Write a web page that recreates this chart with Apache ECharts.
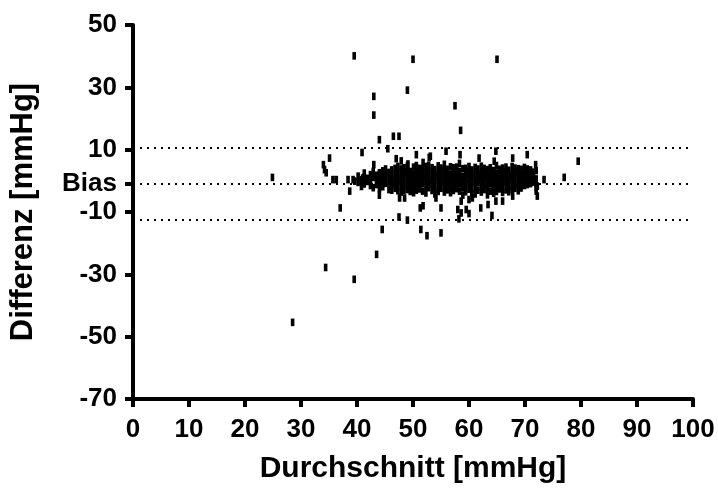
<!DOCTYPE html>
<html><head><meta charset="utf-8">
<script src="https://cdn.jsdelivr.net/npm/echarts@6/dist/echarts.min.js"></script>
<style>html,body{margin:0;padding:0;background:#fff}#c{width:718px;height:489px}</style>
</head><body><div id="c"></div>
<script>
// ---- data ----
const xTickValues = [0, 10, 20, 30, 40, 50, 60, 70, 80, 90, 100];
const yTickValues = [-70, -50, -30, -10, 10, 30, 50];
const biasValue = -0.9;
const upperLoA = 10.6;
const lowerLoA = -12.4;
const xAxisTitle = 'Durchschnitt [mmHg]';
const yAxisTitle = 'Differenz [mmHg]';
const biasLabel = 'Bias';

// dense cluster around the bias (mean, difference)
const clusterPoints = [
  [40.2,-0.5],[40.2,1.5],
  [40.8,0.3],[40.8,-1.8],
  [41.3,1.2],[41.3,-1.0],[41.3,2.5],
  [41.9,-0.2],[41.9,0.8],
  [42.4,2.0],[42.4,-1.5],[42.4,0.4],
  [42.9,1.1],[42.9,-2.2],[42.9,3.0],
  [43.5,0.0],[43.5,1.8],[43.5,-1.2],
  [44.0,2.6],[44.0,-0.6],[44.0,0.9],[44.0,-2.5],
  [44.6,1.4],[44.6,-1.9],[44.6,3.2],[44.6,0.2],
  [45.1,-0.8],[45.1,2.1],[45.1,0.6],[45.1,3.8],
  [45.7,-2.8],[45.7,0.9],[45.7,2.7],[45.7,-0.4],
  [46.2,1.6],[46.2,-1.3],[46.2,3.5],[46.2,0.0],[46.2,-3.0],
  [46.8,4.0],[46.8,2.2],[46.8,-0.5],[46.8,-2.4],[46.8,0.8],
  [47.3,3.0],[47.3,1.0],[47.3,-1.0],[47.3,-3.2],[47.3,4.6],[47.3,0.2],
  [47.9,2.5],[47.9,-0.3],[47.9,-2.0],[47.9,1.5],[47.9,3.8],[47.9,-3.6],
  [48.4,4.2],[48.4,1.8],[48.4,0.0],[48.4,-1.6],[48.4,-3.0],[48.4,2.9],
  [49.0,0.9],[49.0,-0.8],[49.0,3.4],[49.0,-2.6],[49.0,2.0],[49.0,4.8],
  [49.5,1.3],[49.5,-1.9],[49.5,3.0],[49.5,-3.4],[49.5,0.1],[49.5,2.4],
  [50.1,4.4],[50.1,2.0],[50.1,-0.6],[50.1,-2.2],[50.1,0.7],[50.1,-3.8],
  [50.6,3.2],[50.6,0.6],[50.6,-1.4],[50.6,1.9],[50.6,-3.0],[50.6,4.9],
  [51.2,2.6],[51.2,-0.2],[51.2,-2.6],[51.2,1.1],[51.2,4.0],[51.2,-1.2],
  [51.7,3.8],[51.7,1.5],[51.7,-0.8],[51.7,-3.3],[51.7,0.3],[51.7,2.2],
  [52.3,4.6],[52.3,2.8],[52.3,0.4],[52.3,-1.8],[52.3,-3.9],[52.3,1.0],
  [52.8,3.1],[52.8,0.0],[52.8,-2.2],[52.8,1.7],[52.8,-0.9],[52.8,5.0],
  [53.4,2.4],[53.4,-1.1],[53.4,4.2],[53.4,0.8],[53.4,-3.1],[53.4,-0.2],
  [53.9,3.6],[53.9,1.2],[53.9,-0.6],[53.9,-2.8],[53.9,2.0],[53.9,-4.2],
  [54.5,4.8],[54.5,2.6],[54.5,0.2],[54.5,-1.6],[54.5,-3.4],[54.5,1.4],
  [55.0,1.9],[55.0,-0.4],[55.0,3.4],[55.0,-2.4],[55.0,0.7],[55.0,4.1],
  [55.6,2.9],[55.6,0.3],[55.6,-1.7],[55.6,-3.6],[55.6,1.6],[55.6,5.3],
  [56.1,3.7],[56.1,1.0],[56.1,-0.9],[56.1,-2.9],[56.1,2.3],[56.1,-0.1],
  [56.7,4.5],[56.7,2.1],[56.7,-0.3],[56.7,-2.0],[56.7,0.9],[56.7,-3.8],
  [57.2,3.3],[57.2,0.5],[57.2,-1.3],[57.2,1.8],[57.2,-3.1],[57.2,4.2],
  [57.8,2.7],[57.8,-0.7],[57.8,4.4],[57.8,1.2],[57.8,-2.5],[57.8,0.0],
  [58.3,5.6],[58.3,3.0],[58.3,0.8],[58.3,-1.0],[58.3,-3.3],[58.3,2.0],
  [58.9,3.9],[58.9,1.4],[58.9,-0.5],[58.9,-2.2],[58.9,0.4],[58.9,-4.6],
  [59.4,2.4],[59.4,-0.2],[59.4,4.0],[59.4,-1.8],[59.4,1.0],[59.4,-3.5],
  [60.0,4.6],[60.0,1.9],[60.0,-0.8],[60.0,-2.7],[60.0,0.6],[60.0,3.1],
  [60.5,3.5],[60.5,0.9],[60.5,-1.5],[60.5,-3.8],[60.5,2.2],[60.5,-0.3],
  [61.1,2.8],[61.1,-0.1],[61.1,-2.3],[61.1,4.3],[61.1,1.3],[61.1,-4.2],
  [61.6,3.8],[61.6,1.6],[61.6,-0.6],[61.6,-3.0],[61.6,0.2],[61.6,2.5],
  [62.2,4.7],[62.2,2.3],[62.2,0.0],[62.2,-1.9],[62.2,-3.6],[62.2,1.0],
  [62.7,3.0],[62.7,0.6],[62.7,-1.1],[62.7,-2.8],[62.7,1.9],[62.7,4.0],
  [63.3,2.1],[63.3,-0.4],[63.3,3.6],[63.3,-2.2],[63.3,0.9],[63.3,-4.5],
  [63.8,4.2],[63.8,1.7],[63.8,-0.9],[63.8,-3.3],[63.8,0.3],[63.8,2.7],
  [64.4,3.3],[64.4,0.8],[64.4,-1.6],[64.4,2.1],[64.4,-2.9],[64.4,-4.0],
  [64.9,4.9],[64.9,2.5],[64.9,0.1],[64.9,-2.0],[64.9,1.2],[64.9,-3.4],
  [65.5,3.7],[65.5,1.3],[65.5,-0.7],[65.5,-2.6],[65.5,0.4],[65.5,2.4],
  [66.0,2.8],[66.0,-0.3],[66.0,4.1],[66.0,-1.8],[66.0,1.5],[66.0,-3.7],
  [66.6,4.4],[66.6,1.9],[66.6,-0.5],[66.6,-2.9],[66.6,0.7],[66.6,3.0],
  [67.1,3.4],[67.1,1.0],[67.1,-1.3],[67.1,-3.5],[67.1,2.2],[67.1,-0.2],
  [67.7,4.6],[67.7,2.4],[67.7,0.3],[67.7,-1.9],[67.7,1.1],[67.7,-2.8],
  [68.2,3.2],[68.2,0.6],[68.2,-1.0],[68.2,-2.4],[68.2,2.0],[68.2,4.1],
  [68.8,2.5],[68.8,-0.5],[68.8,3.9],[68.8,-1.7],[68.8,1.2],[68.8,-3.2],
  [69.3,3.7],[69.3,1.4],[69.3,-0.8],[69.3,-2.3],[69.3,0.2],[69.3,2.6],
  [69.9,4.3],[69.9,2.0],[69.9,-0.2],[69.9,-1.5],[69.9,0.9],
  [70.4,2.9],[70.4,0.5],[70.4,-1.2],[70.4,1.6],[70.4,3.8],
  [71.0,3.5],[71.0,0.8],[71.0,-0.9],[71.0,2.0],
  [71.5,1.6],[71.5,-0.4],[71.5,2.8],
  [72.0,0.6],[72.0,-1.0],[72.0,3.3],[72.0,-2.1]
];

// scattered points away from the cluster (mean, difference)
const outlierPoints = [
  [24.9,1.1],[28.5,-45.4],[34.4,-27.8],[39.5,-31.6],[39.5,40.1],
  [50.0,39.0],[65.0,39.0],[49.0,29.1],[43.0,27.1],[43.0,21.1],
  [57.5,24.1],[58.5,16.2],[44.0,13.2],[46.5,14.3],[47.5,14.3],
  [45.5,10.3],[40.9,9.1],[35.1,7.3],[34.0,5.2],[34.2,3.6],[34.5,2.6],
  [35.7,0.4],[36.3,0.4],[38.4,0.4],[38.7,-3.3],[39.3,0.4],[39.6,-0.1],
  [37.0,-8.7],[41.0,0.9],[41.0,-0.7],[41.7,0.4],[43.0,5.2],
  [44.0,-4.6],[47.6,-5.5],[48.5,-5.5],[51.3,-8.7],[51.8,-8.0],
  [54.1,-5.5],[55.0,-8.7],[49.1,-2.8],[47.5,-11.6],[49.0,-12.6],
  [44.5,-15.6],[43.5,-23.6],[51.4,-15.6],[52.5,-17.6],[55.0,-16.7],
  [58.0,-9.2],[58.2,-12.2],[58.6,-6.5],[58.6,-10.3],[59.5,-9.2],
  [60.0,-6.0],[60.0,-10.5],[62.1,-8.7],[63.4,-7.6],[64.1,-11.1],
  [64.8,-6.5],[66.0,-6.5],[67.8,-4.9],[72.2,-4.9],[60.6,-5.5],
  [47.0,7.1],[47.9,6.4],[49.1,5.4],[50.6,8.4],[52.9,7.5],[55.9,9.5],
  [51.8,5.9],[53.1,7.9],[58.4,8.4],[61.8,7.3],[64.8,9.5],[64.5,6.3],
  [67.8,7.3],[70.4,8.4],[79.5,6.3],[77.0,1.1],[73.4,0.4],[72.2,-1.7],
  [71.9,5.2],[72.0,-3.3]
];

// ---- chart ----
const FONT = 'Liberation Sans';
const labelValues = yTickValues.slice(0, 4).concat([biasValue], yTickValues.slice(4));
const chart = echarts.init(document.getElementById('c'), null, { renderer: 'canvas' });
chart.setOption({
  animation: false,
  backgroundColor: '#fff',
  grid: { left: 131, right: 25, top: 25, bottom: 89 },
  xAxis: {
    type: 'value', min: 0, max: 100, interval: 10,
    name: xAxisTitle, nameLocation: 'middle', nameGap: 55,
    nameTextStyle: { fontFamily: FONT, fontWeight: 'bold', fontSize: 30, color: '#000' },
    axisLine: { show: true, onZero: false, lineStyle: { color: '#000', width: 4 } },
    axisTick: { show: true, length: 8, lineStyle: { color: '#000', width: 4 }, customValues: xTickValues },
    axisLabel: { margin: 18, fontFamily: FONT, fontWeight: 'bold', fontSize: 26, color: '#000', customValues: xTickValues },
    splitLine: { show: false }
  },
  yAxis: {
    type: 'value', min: -70, max: 50,
    name: yAxisTitle, nameLocation: 'middle', nameGap: 94, nameRotate: 90,
    nameTextStyle: { fontFamily: FONT, fontWeight: 'bold', fontSize: 31, color: '#000' },
    axisLine: { show: true, onZero: false, lineStyle: { color: '#000', width: 4 } },
    axisTick: { show: true, length: 8, lineStyle: { color: '#000', width: 4 }, customValues: labelValues },
    axisLabel: {
      margin: 16, fontFamily: FONT, fontWeight: 'bold', fontSize: 26, color: '#000',
      customValues: labelValues,
      formatter: v => (Math.abs(v - biasValue) < 1e-6 ? biasLabel : String(v))
    },
    splitLine: { show: false }
  },
  series: [{
    type: 'scatter',
    data: clusterPoints.concat(outlierPoints),
    symbol: 'rect',
    symbolSize: [3.6, 7.6],
    itemStyle: { color: '#000', opacity: 1 },
    silent: true,
    markLine: {
      silent: true,
      symbol: ['none', 'none'],
      label: { show: false },
      lineStyle: { color: '#000', type: [2, 5], width: 2, opacity: 1 },
      data: [{ yAxis: upperLoA }, { yAxis: biasValue }, { yAxis: lowerLoA }]
    }
  }]
});
</script>
</body></html>
